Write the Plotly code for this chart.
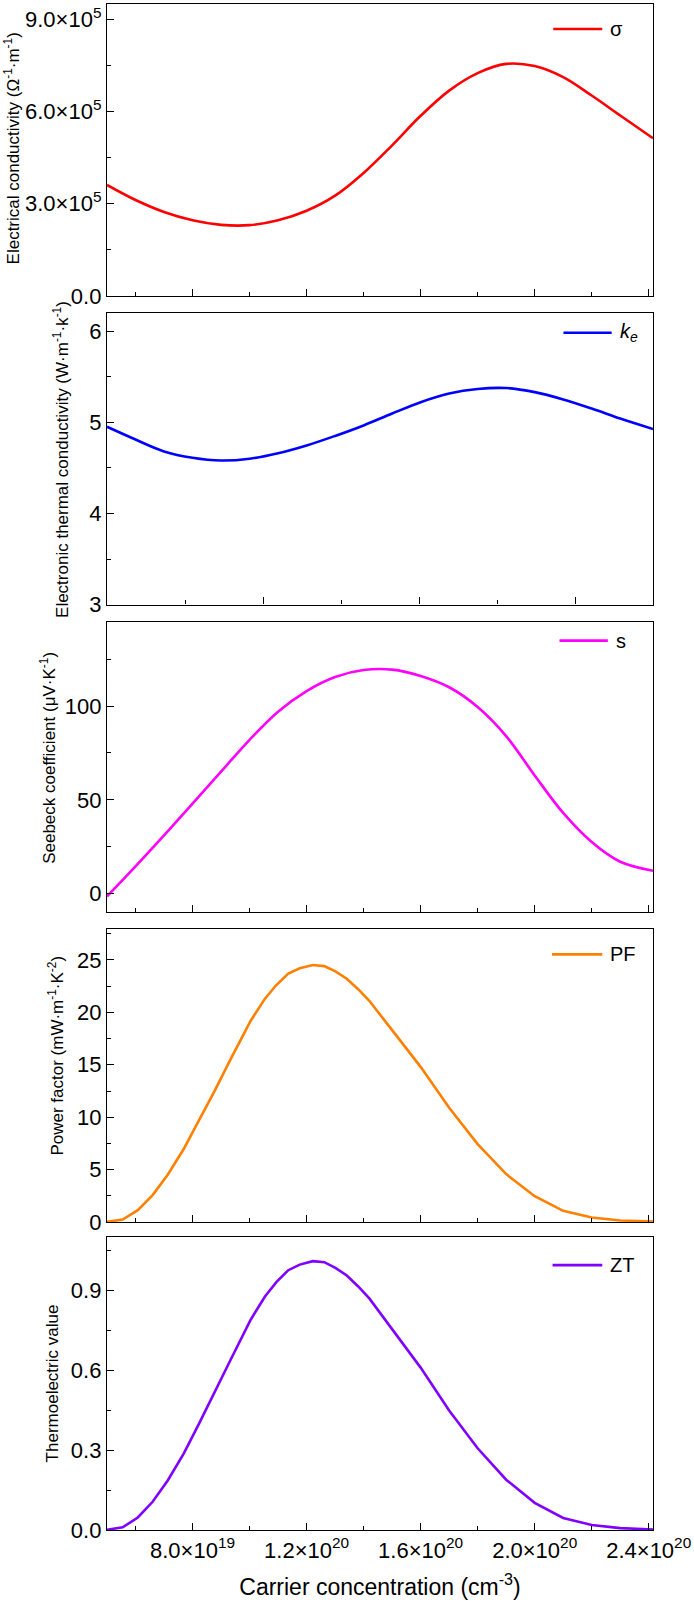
import plotly.graph_objects as go

# ---------------- data (carrier concentration in cm^-3) ----------------
sigma_x = [0.50e20, 0.60e20, 0.70e20, 0.80e20, 0.90e20, 1.00e20, 1.10e20, 1.20e20, 1.30e20,
           1.40e20, 1.50e20, 1.60e20, 1.70e20, 1.80e20, 1.90e20, 2.00e20, 2.10e20, 2.20e20,
           2.30e20, 2.415e20]
sigma_y = [3.61e5, 3.12e5, 2.73e5, 2.46e5, 2.31e5, 2.30e5, 2.46e5, 2.77e5, 3.26e5,
           4.00e5, 4.90e5, 5.86e5, 6.68e5, 7.25e5, 7.55e5, 7.48e5, 7.12e5, 6.52e5,
           5.87e5, 5.13e5]

ke_x = [0.50e20, 0.60e20, 0.70e20, 0.80e20, 0.90e20, 1.00e20, 1.10e20, 1.20e20, 1.30e20, 1.40e20,
        1.50e20, 1.60e20, 1.70e20, 1.80e20, 1.90e20, 2.00e20, 2.10e20, 2.20e20, 2.30e20,
        2.415e20]
ke_y = [4.95, 4.81, 4.68, 4.61, 4.58, 4.60, 4.66, 4.745, 4.85, 4.965,
        5.095, 5.22, 5.315, 5.365, 5.375, 5.33, 5.25, 5.15, 5.04,
        4.925]

s_x = [0.50e20, 0.60e20, 0.70e20, 0.80e20, 0.90e20, 1.00e20, 1.10e20, 1.20e20, 1.30e20, 1.40e20,
       1.50e20, 1.60e20, 1.70e20, 1.80e20, 1.90e20, 2.00e20, 2.10e20, 2.20e20, 2.30e20,
       2.415e20]
s_y = [-1.5, 14.5, 31.0, 48.0, 65.0, 82.0, 97.0, 108.0, 115.5, 119.2,
       119.4, 116.0, 110.0, 99.5, 84.0, 63.0, 43.0, 27.5, 17.0,
       12.2]

pf_x = [0.50e20, 0.555e20, 0.608e20, 0.66e20, 0.713e20, 0.769e20, 0.822e20, 0.878e20, 0.931e20, 1.004e20,
        1.054e20, 1.094e20, 1.136e20, 1.176e20, 1.222e20, 1.262e20, 1.301e20, 1.341e20, 1.381e20, 1.42e20,
        1.50e20, 1.60e20, 1.70e20, 1.80e20, 1.90e20, 2.00e20, 2.10e20, 2.20e20, 2.30e20, 2.415e20]
pf_y = [0.03, 0.25, 1.15, 2.58, 4.52, 6.97, 9.67, 12.53, 15.4, 19.2,
        21.3, 22.6, 23.7, 24.2, 24.5, 24.4, 23.9, 23.2, 22.2, 21.1,
        18.3, 14.8, 10.9, 7.44, 4.58, 2.48, 1.08, 0.45, 0.16, 0.06]

zt_x = pf_x
zt_y = [0.001, 0.010, 0.047, 0.106, 0.186, 0.287, 0.398, 0.516, 0.634, 0.790,
        0.877, 0.931, 0.976, 0.997, 1.010, 1.006, 0.985, 0.956, 0.915, 0.870,
        0.754, 0.610, 0.449, 0.307, 0.189, 0.102, 0.045, 0.019, 0.007, 0.002]

x_major = [0.8e20, 1.2e20, 1.6e20, 2.0e20, 2.4e20]
x_major_text = ["8.0×10<sup>19</sup>", "1.2×10<sup>20</sup>", "1.6×10<sup>20</sup>",
                "2.0×10<sup>20</sup>", "2.4×10<sup>20</sup>"]
x_minor = [0.6e20, 1.0e20, 1.4e20, 1.8e20, 2.2e20]
x2_major = [1.0477e20, 1.596e20, 2.1429e20]
x2_minor = [0.7768e20, 1.3211e20, 1.8694e20]

y1_major = [0, 3e5, 6e5, 9e5]
y1_text = ["0.0", "3.0×10<sup>5</sup>", "6.0×10<sup>5</sup>", "9.0×10<sup>5</sup>"]
y1_minor = [1.5e5, 4.5e5, 7.5e5]
y2_major = [3, 4, 5, 6]
y2_minor = [3.5, 4.5, 5.5]
y3_major = [0, 50, 100]
y3_minor = [25, 75, 125]
y4_major = [0, 5, 10, 15, 20, 25]
y4_minor = [2.5, 7.5, 12.5, 17.5, 22.5, 27.5]
y5_major = [0.0, 0.3, 0.6, 0.9]
y5_text = ["0.0", "0.3", "0.6", "0.9"]
y5_minor = [0.15, 0.45, 0.75, 1.05]

names = ["σ", "<i>k</i><sub><i>e</i></sub>", "s", "PF", "ZT"]
colors = ["#FF0000", "#0000FF", "#FF00FF", "#FF8000", "#8000FF"]
ytitles = ["Electrical conductivity (Ω<sup>-1</sup>·m<sup>-1</sup>)",
           "Electronic thermal conductivity (W·m<sup>-1</sup>·k<sup>-1</sup>)",
           "Seebeck coefficient (μV·K<sup>-1</sup>)",
           "Power factor (mW·m<sup>-1</sup>·K<sup>-2</sup>)",
           "Thermoelectric value"]
yranges = [[0, 9.5e5], [3, 6.2], [-10, 145], [0, 27.9], [0, 1.1]]

# ---------------- layout geometry (pixels) ----------------
W, H = 694, 1602
L, R, T, B = 107, 656, 3, 1530
panels = [(3, 295), (312, 604), (621, 912), (929, 1222), (1237, 1530)]


def fx(px):
    return (px - L) / (R - L)


def fy(py):
    return (B - py) / (B - T)


FONT = "Liberation Sans, Arial, sans-serif"
fig = go.Figure()

series = [(sigma_x, sigma_y, "spline"), (ke_x, ke_y, "spline"), (s_x, s_y, "spline"),
          (pf_x, pf_y, "linear"), (zt_x, zt_y, "linear")]
for i, (xs, ys, shp) in enumerate(series):
    k = "" if i == 0 else str(i + 1)
    fig.add_trace(go.Scatter(x=xs, y=ys, mode="lines", name=names[i],
                             line=dict(color=colors[i], width=2.6, shape=shp),
                             xaxis="x" + k, yaxis="y" + k, showlegend=False))

axis_common = dict(showline=True, linecolor="black", linewidth=1.3, mirror=True,
                   ticks="inside", ticklen=7, tickwidth=1.3, tickcolor="black",
                   showgrid=False, zeroline=False, ticklabeloverflow="allow",
                   tickfont=dict(family=FONT, size=22, color="black"))


def minor(vals):
    return dict(tickmode="array", tickvals=vals, ticks="inside", ticklen=4,
                tickwidth=1.3, tickcolor="black", showgrid=False)


y_major = [y1_major, y2_major, y3_major, y4_major, y5_major]
y_text = [y1_text, [str(v) for v in y2_major], [str(v) for v in y3_major],
          [str(v) for v in y4_major], y5_text]
y_minor = [y1_minor, y2_minor, y3_minor, y4_minor, y5_minor]

layout = {}
for i in range(5):
    k = "" if i == 0 else str(i + 1)
    top, bot = panels[i]
    if i == 1:
        xt, xm = x2_major, x2_minor
    else:
        xt, xm = x_major, x_minor
    xa = dict(axis_common, domain=[0, 1], anchor="y" + k, range=[0.5e20, 2.415e20],
              tickmode="array", tickvals=xt, ticktext=x_major_text if i == 4 else None,
              showticklabels=(i == 4), minor=minor(xm))
    if i == 4:
        xa["title"] = dict(text="Carrier concentration (cm<sup>-3</sup>)",
                           font=dict(family=FONT, size=23, color="black"), standoff=17)
    ya = dict(axis_common, domain=[fy(bot), fy(top)], anchor="x" + k, range=yranges[i],
              tickmode="array", tickvals=y_major[i], ticktext=y_text[i], minor=minor(y_minor[i]))
    layout["xaxis" + k] = xa
    layout["yaxis" + k] = ya

fig.update_layout(**layout)

# y-axis titles
ytitle_pos = [(11, 148), (60, 459), (47, 757), (56, 1055), (52, 1383)]
annotations = []
for i, (px, py) in enumerate(ytitle_pos):
    annotations.append(dict(text=ytitles[i], xref="paper", yref="paper", x=fx(px), y=fy(py),
                            xanchor="center", yanchor="middle", textangle=-90, showarrow=False,
                            font=dict(family=FONT, size=17, color="black")))

# legend keys
legend_pos = [(555.7, 605, 28, 611), (566, 614.4, 332, 621), (562, 610.6, 640, 617),
              (554.5, 605, 954, 611), (555, 605, 1265, 611)]
shapes = []
for i, (x0, x1, ly, tx) in enumerate(legend_pos):
    shapes.append(dict(type="line", xref="paper", yref="paper", x0=fx(x0), x1=fx(x1),
                       y0=fy(ly), y1=fy(ly), line=dict(color=colors[i], width=2.6)))
    annotations.append(dict(text=names[i], xref="paper", yref="paper", x=fx(tx), y=fy(ly),
                            xanchor="left", yanchor="middle", showarrow=False,
                            font=dict(family=FONT, size=20, color="black")))

fig.update_layout(width=W, height=H, margin=dict(l=L, r=W - R, t=T, b=H - B),
                  paper_bgcolor="white", plot_bgcolor="white",
                  annotations=annotations, shapes=shapes,
                  font=dict(family=FONT, color="black"), showlegend=False)

fig.write_html("out.html")
